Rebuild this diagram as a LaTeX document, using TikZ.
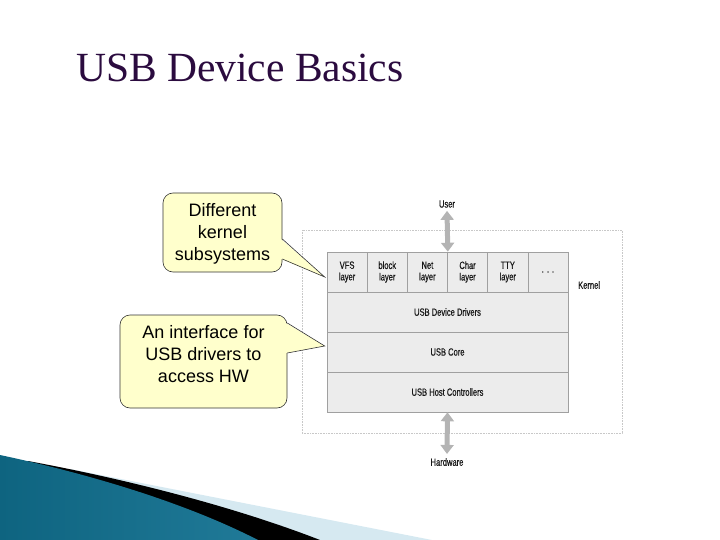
\documentclass[tikz,border=0pt]{standalone}
\usepackage{fontspec}
\setmainfont{Liberation Serif}
\newfontfamily\calloutfont{Liberation Sans}
\newfontfamily\condfont[FakeStretch=0.72,FakeBold=0.6]{Liberation Sans}
\usetikzlibrary{arrows.meta}
\definecolor{titlecol}{HTML}{2B0B3F}
\definecolor{callfill}{HTML}{FFFFCC}
\definecolor{cellfill}{HTML}{ECECEC}
\definecolor{cellline}{HTML}{A0A0A0}
\definecolor{arrowgray}{HTML}{B4B4B4}
\definecolor{kernline}{HTML}{C8C8C8}
\definecolor{tealdark}{HTML}{0E6480}
\definecolor{teallight}{HTML}{4AADD0}
\definecolor{bandlight}{HTML}{D6E9F1}
\begin{document}
\begin{tikzpicture}[x=1pt,y=-1pt,
  cell/.style={draw=cellline, fill=cellfill, line width=0.6pt, minimum width=40.17pt, minimum height=40pt, inner sep=0pt, align=center, font=\condfont\fontsize{10.5}{11.5}\selectfont, text=black!90},
  rowbox/.style={cell, minimum width=241pt},
  callbox/.style={draw=black!80, fill=callfill, line width=0.6pt, rounded corners=10pt, inner sep=0pt},
  calltext/.style={align=center, font=\calloutfont\fontsize{18}{22}\selectfont, inner sep=0pt},
  ptr/.style={draw=black!80, line width=0.6pt, line join=miter},
  updown/.style={arrowgray, line width=5pt, {Triangle[width=13pt,length=9pt]}-{Triangle[width=13pt,length=9pt]}},
  lbl/.style={font=\condfont\fontsize{10.5}{12}\selectfont, text=black!90, inner sep=0pt}
]
\useasboundingbox (0,0) rectangle (720,540);

% bottom-left decoration
\fill[bandlight] (70,469) -- (432,540) -- (0,540) -- cycle;
\fill[black] (28,461) .. controls (120,478) and (230,505) .. (320,540) -- (0,540) -- cycle;
\shade[left color=tealdark, middle color=teallight, right color=tealdark!70!teallight]
  (0,455) .. controls (80,472) and (180,500) .. (258,540) -- (0,540) -- cycle;

% title
\node[anchor=base west, font=\fontsize{41.5}{45}\selectfont, text=titlecol, inner sep=0pt] (title) at (76,82) {USB Device Basics};

% kernel dotted frame
\node[draw=kernline, densely dotted, line width=0.6pt, minimum width=320pt, minimum height=203pt, inner sep=0pt] (kbox) at (462,331.5) {};

% stack
\node[cell] (vfs)   at (347.08,272) {VFS\\layer};
\node[cell] (block) at (387.25,272) {block\\layer};
\node[cell] (net)   at (427.42,272) {Net\\layer};
\node[cell] (char)  at (467.58,272) {Char\\layer};
\node[cell] (tty)   at (507.75,272) {TTY\\layer};
\node[cell] (more)  at (547.92,272) {.\hspace{3pt}.\hspace{3pt}.};
\node[rowbox] (drv)  at (447.5,312) {USB Device Drivers};
\node[rowbox] (core) at (447.5,352) {USB Core};
\node[rowbox] (host) at (447.5,392) {USB Host Controllers};

% labels
\node[lbl] (user) at (447,204) {User};
\node[lbl] (hw) at (447,462) {Hardware};
\node[lbl, anchor=west] (kern) at (578,285) {Kernel};

% arrows
\draw[updown] ([yshift=-3pt]user.south) -- (net.north east);
\draw[updown] (host.south) -- ([yshift=4pt]hw.north);

% callout 1
\node[callbox, minimum width=119pt, minimum height=79pt] (c1) at (222.5,232.5) {};
\node[calltext] (c1t) at (222.5,234) {Different\\kernel\\subsystems};
\coordinate (t1) at ([xshift=-2pt,yshift=-5pt]vfs.west);
\coordinate (a1) at ([yshift=-6.5pt]c1.east);
\coordinate (b1) at ([yshift=-26.5pt]c1.east);
\fill[callfill] ([xshift=-1.5pt]a1) -- (t1) -- ([xshift=-1.5pt]b1) -- cycle;
\draw[ptr] (a1) -- (t1) -- (b1);

% callout 2
\node[callbox, minimum width=167pt, minimum height=93pt] (c2) at (203.5,361.5) {};
\node[calltext] (c2t) at (203.5,354) {An interface for\\USB drivers to\\access HW};
\coordinate (t2) at ([xshift=-2pt,yshift=6pt]core.west);
\coordinate (a2) at ([yshift=38.5pt]c2.east);
\coordinate (b2) at ([yshift=8.5pt]c2.east);
\fill[callfill] ([xshift=-1.5pt]a2) -- (t2) -- ([xshift=-1.5pt]b2) -- cycle;
\draw[ptr] (a2) -- (t2) -- (b2);
\end{tikzpicture}
\end{document}
